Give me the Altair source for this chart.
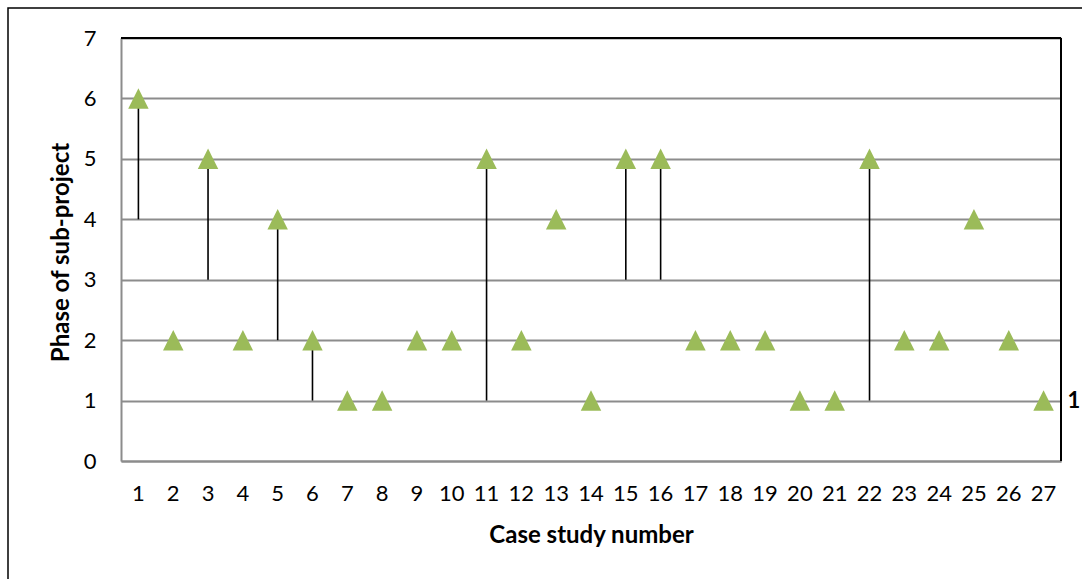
import altair as alt
import pandas as pd

# Case studies and the span of sub-project phases each one covers
cases = list(range(1, 28))
phase_max = [6, 2, 5, 2, 4, 2, 1, 1, 2, 2, 5, 2, 4, 1, 5, 5, 2, 2, 2, 1, 1, 5, 2, 2, 4, 2, 1]
phase_min = [4, 2, 3, 2, 2, 1, 1, 1, 2, 2, 1, 2, 4, 1, 3, 3, 2, 2, 2, 1, 1, 1, 2, 2, 4, 2, 1]
y_ticks = [0, 1, 2, 3, 4, 5, 6, 7]

df = pd.DataFrame({"case": cases, "hi": phase_max, "lo": phase_min})

FONT = "Lato"
W, H = 940, 423

x_enc = alt.X(
    "case:O",
    sort=cases,
    scale=alt.Scale(paddingInner=0, paddingOuter=0),
    axis=alt.Axis(
        title="Case study number",
        labelAngle=0,
        labelFontSize=22,
        labelFont=FONT,
        labelColor="black",
        labelPadding=22,
        ticks=False,
        domainColor="#8c8c8c",
        domainWidth=2,
        titleFont=FONT,
        titleFontSize=24,
        titleFontWeight="bold",
        titleColor="black",
        titleX=W / 2,
        titleY=74,
        titleBaseline="middle",
    ),
)

y_scale = alt.Scale(domain=[0, 7], nice=False, zero=True)

base = alt.Chart(df)

spans = base.mark_rule(color="black", strokeWidth=1.6).encode(
    x=x_enc,
    y=alt.Y(
        "lo:Q",
        scale=y_scale,
        axis=alt.Axis(
            title="Phase of sub-project",
            values=y_ticks,
            format="d",
            grid=True,
            gridColor="#8c8c8c",
            gridWidth=2,
            ticks=False,
            domainColor="#8c8c8c",
            domainWidth=2,
            labelFontSize=22,
            labelFont=FONT,
            labelColor="black",
            labelPadding=25,
            titleFont=FONT,
            titleFontSize=24,
            titleFontWeight="bold",
            titleColor="black",
            titleX=-60,
            titleY=214,
            titleAngle=-90,
            titleBaseline="middle",
        ),
    ),
    y2="hi:Q",
)

points = base.mark_point(
    shape="M-1,1L1,1L0,-1Z",
    size=420,
    filled=True,
    fill="#9BBB59",
    opacity=1,
    strokeWidth=0,
).encode(x=x_enc, y=alt.Y("hi:Q", scale=y_scale))

last_label = base.transform_filter(alt.datum.case == 27).mark_text(
    align="left", baseline="middle", dx=24, font=FONT, fontSize=22,
    fontWeight="bold", color="black",
).encode(x=x_enc, y=alt.Y("hi:Q", scale=y_scale), text="lo:Q")

# Black top and right edges of the plot frame
top_edge = alt.Chart(pd.DataFrame({"v": [0]})).mark_rule(
    color="black", strokeWidth=2
).encode(x=alt.value(0), x2=alt.value(W), y=alt.value(0))
right_edge = alt.Chart(pd.DataFrame({"v": [0]})).mark_rule(
    color="black", strokeWidth=2
).encode(x=alt.value(W), y=alt.value(0), y2=alt.value(H))

# Outer chart border
outer = alt.Chart(pd.DataFrame({"v": [0]})).mark_rect(
    fill=None, stroke="black", strokeWidth=1.5
).encode(x=alt.value(-113), x2=alt.value(1100), y=alt.value(-30), y2=alt.value(700))

chart = (
    alt.layer(outer, spans, top_edge, right_edge, points, last_label)
    .properties(
        width=W,
        height=H,
        autosize=alt.AutoSizeParams(type="none"),
        padding={"left": 121, "top": 38, "right": 21, "bottom": 118},
        background="white",
    )
    .configure_view(stroke=None)
)

chart.save("out.html", embed_options={"renderer": "svg", "actions": False})
